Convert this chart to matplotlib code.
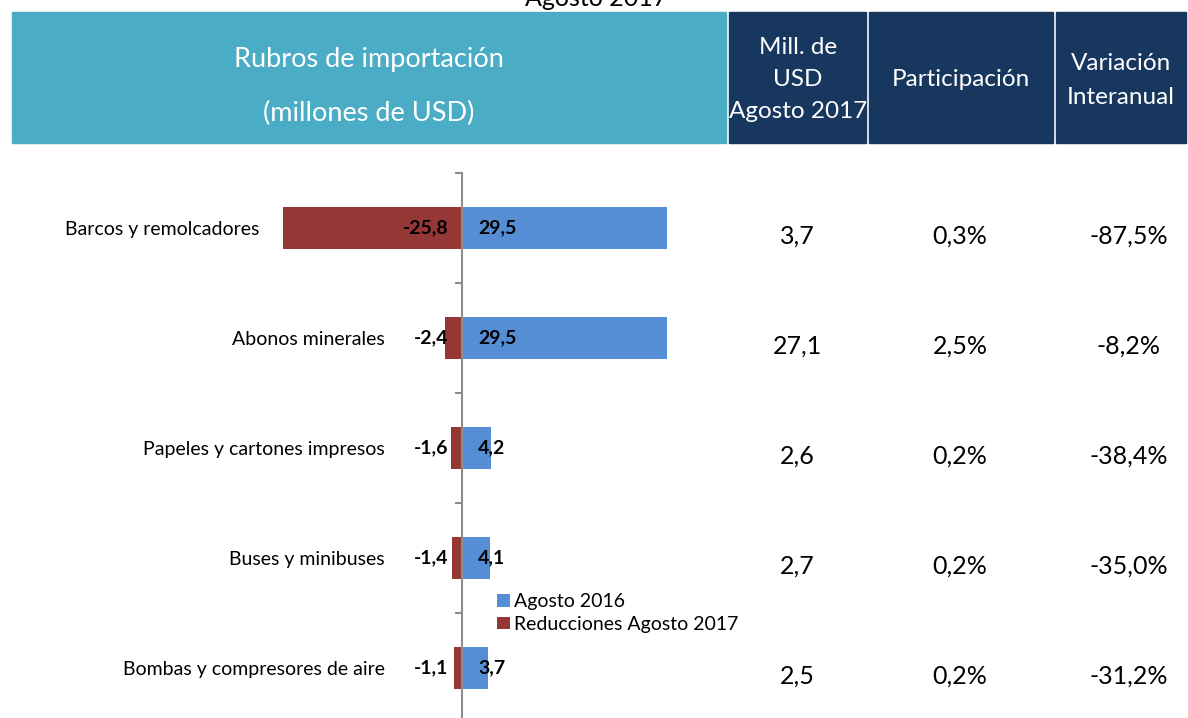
import matplotlib
matplotlib.use('Agg')
import matplotlib.pyplot as plt
from matplotlib.patches import Rectangle
from matplotlib.transforms import blended_transform_factory

plt.rcParams['font.family'] = ['Lato', 'DejaVu Sans']

# data
rubros = ['Barcos y remolcadores', 'Abonos minerales', 'Papeles y cartones impresos',
          'Buses y minibuses', 'Bombas y compresores de aire']
agosto_2016 = [29.5, 29.5, 4.2, 4.1, 3.7]
reducciones = [-25.8, -2.4, -1.6, -1.4, -1.1]
mill_usd_2017 = ['3,7', '27,1', '2,6', '2,7', '2,5']
participacion = ['0,3%', '2,5%', '0,2%', '0,2%', '0,2%']
variacion = ['-87,5%', '-8,2%', '-38,4%', '-35,0%', '-31,2%']

W, H = 1188, 718
teal = '#4BACC6'
navy = '#17375E'
red = '#953735'
blue = '#558ED5'

fig = plt.figure(figsize=(W/100, H/100), dpi=100)

def fx(px):
    return px / W

def fy(py):
    return 1 - py / H

# header boxes (pixel rectangles: x0, y0, x1, y1)
def box(x0, y0, x1, y1, color):
    fig.patches.append(Rectangle((fx(x0), fy(y1)), fx(x1 - x0), (y1 - y0) / H,
                                 transform=fig.transFigure, color=color, zorder=0))

box(12, 12, 726, 143, teal)
box(729, 12, 866, 143, navy)
box(869, 12, 1053, 143, navy)
box(1056, 12, 1186, 143, navy)

def head(x, y, s, size=17.5):
    fig.text(fx(x), fy(y), s, ha='center', va='center', color='white', fontsize=size)

# title sits partly above the top edge, as in the source image
fig.text(fx(596), fy(6), 'Agosto 2017', ha='center', va='baseline', fontsize=18)
head(369, 60, 'Rubros de importación', 19.5)
head(369, 113, '(millones de USD)', 19.5)
head(798, 47, 'Mill. de')
head(798, 80, 'USD')
head(798, 112, 'Agosto 2017')
head(961, 80, 'Participación')
head(1121, 64, 'Variación')
head(1121, 97, 'Interanual')

# bar chart area
px_per_unit = 6.95
ax = fig.add_axes([0, fy(723), fx(735), (723 - 173) / H])
ax.set_xlim(-462 / px_per_unit, (735 - 462) / px_per_unit)
ax.set_ylim(len(rubros) - 0.5, -0.5)
ax.patch.set_visible(False)

ypos = list(range(len(rubros)))
b1 = ax.barh(ypos, agosto_2016, height=0.39, color=blue, label='Agosto 2016')
b2 = ax.barh(ypos, reducciones, height=0.39, color=red, label='Reducciones Agosto 2017')

for s in ['top', 'right', 'bottom']:
    ax.spines[s].set_visible(False)
ax.spines['left'].set_position(('data', 0))
ax.spines['left'].set_color('#8c8c8c')
ax.spines['left'].set_linewidth(1.5)
ax.set_xticks([])
ax.set_yticks([i - 0.5 for i in range(len(rubros) + 1)])
ax.set_yticklabels([])
ax.tick_params(axis='y', direction='out', length=5, width=1.5, color='#8c8c8c')

for i, (v1, v2) in enumerate(zip(agosto_2016, reducciones)):
    ax.annotate(('%.1f' % v1).replace('.', ','), (0, i), xytext=(11.5, 0),
                textcoords='offset points', ha='left', va='center',
                fontsize=14, fontweight='bold')
    ax.annotate(('%.1f' % v2).replace('.', ','), (0, i), xytext=(-10, 0),
                textcoords='offset points', ha='right', va='center',
                fontsize=14, fontweight='bold')
    # category label sits left of the axis, or left of a long red bar
    lx = min(-77 / px_per_unit, v2 - 23 / px_per_unit)
    ax.text(lx, i + 0.015, rubros[i], ha='right', va='center', fontsize=14)

# table columns aligned with categories
tr = blended_transform_factory(fig.transFigure, ax.transData)
for i in range(len(rubros)):
    ax.text(fx(797), i + 0.07, mill_usd_2017[i], transform=tr, ha='center',
            va='center', fontsize=18)
    ax.text(fx(960), i + 0.07, participacion[i], transform=tr, ha='center',
            va='center', fontsize=18)
    ax.text(fx(1129), i + 0.07, variacion[i], transform=tr, ha='center',
            va='center', fontsize=18)

ax.legend(handles=[b1, b2], loc='upper left', bbox_to_anchor=(fx(497) / fx(735), (723 - 593) / 550),
          frameon=False, fontsize=14, handlelength=0.65, handleheight=0.65,
          handletextpad=0.2, labelspacing=0.3, borderpad=0, borderaxespad=0)

fig.savefig('out.png', dpi=100)
